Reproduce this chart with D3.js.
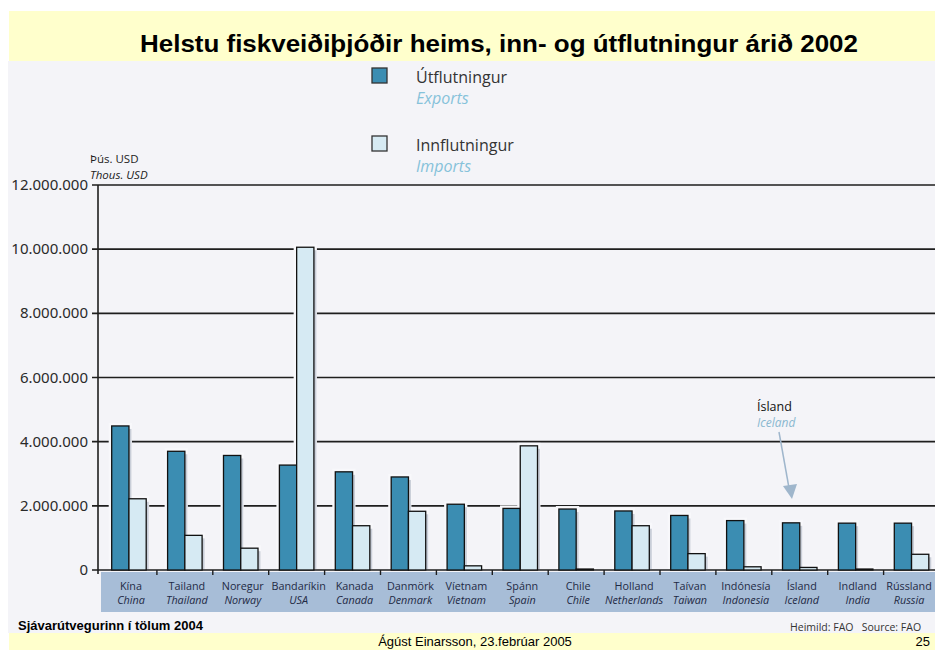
<!DOCTYPE html>
<html><head><meta charset="utf-8">
<script src="https://cdn.jsdelivr.net/npm/d3@7"></script>
<style>body{margin:0;background:#fff;} svg{display:block;}</style>
</head><body>
<svg id="c" width="935" height="650"></svg>
<script>
const categoriesIs = ["Kína","Tailand","Noregur","Bandaríkin","Kanada","Danmörk","Víetnam","Spánn","Chile","Holland","Taívan","Indónesía","Ísland","Indland","Rússland"];
const categoriesEn = ["China","Thailand","Norway","USA","Canada","Denmark","Vietnam","Spain","Chile","Netherlands","Taiwan","Indonesia","Iceland","India","Russia"];
const exportsVals = [4490000,3700000,3570000,3270000,3060000,2900000,2050000,1920000,1900000,1840000,1700000,1540000,1470000,1460000,1460000];
const importsVals = [2220000,1080000,680000,10060000,1380000,1830000,130000,3870000,30000,1380000,510000,100000,80000,30000,490000];
const yTicks = [0,2000000,4000000,6000000,8000000,10000000,12000000];
const seriesKeys = ["exp","imp"];
const seriesIs = ["Útflutningur","Innflutningur"];
const seriesEn = ["Exports","Imports"];

const svg = d3.select("#c");
const expColor = "#3b8db2", impColor = "#d6eaf3";

// backgrounds
svg.append("rect").attr("x",8).attr("y",61).attr("width",927).attr("height",572).attr("fill","#f4f4f8");
svg.append("rect").attr("x",9).attr("y",11).attr("width",926).attr("height",50).attr("fill","#ffffcc");
svg.append("rect").attr("x",9).attr("y",633).attr("width",926).attr("height",17).attr("fill","#ffffcc");

svg.append("text").attr("x",140).attr("y",52)
  .attr("font-family","Liberation Sans, Arial, sans-serif").attr("font-weight","bold").attr("font-size",23)
  .attr("textLength",718).attr("lengthAdjust","spacingAndGlyphs")
  .attr("fill","#000").text("Helstu fiskveiðiþjóðir heims, inn- og útflutningur árið 2002");

const x = d3.scaleBand().domain(d3.range(categoriesIs.length)).range([101,939.5]).padding(0);
const x1 = d3.scaleBand().domain(seriesKeys).range([0,x.bandwidth()]).paddingInner(0).paddingOuter(0.62);
const y = d3.scaleLinear().domain([0,12000000]).range([570,185]);

const loc = d3.formatLocale({decimal:",", thousands:".", grouping:[3], currency:["",""]});
const fmt = loc.format(",");

// category label band
svg.append("rect").attr("x",101).attr("y",572).attr("width",834).attr("height",40).attr("fill","#a7bdd7");

// gridlines
const g = svg.append("g");
g.selectAll("line.grid").data(yTicks).join("line")
  .attr("x1",92).attr("x2",935).attr("y1",d=>y(d)).attr("y2",d=>y(d))
  .attr("stroke","#1e1e1e").attr("stroke-width",1.6);
// y axis line
g.append("line").attr("x1",98).attr("x2",98).attr("y1",y(12000000)).attr("y2",574)
  .attr("stroke","#1e1e1e").attr("stroke-width",1.6);
// tick labels
g.selectAll("text.yt").data(yTicks).join("text")
  .attr("x",88).attr("y",d=>y(d)+5).attr("text-anchor","end")
  .attr("font-family","Noto Sans, sans-serif").attr("font-size",15).attr("fill","#2a2a2a")
  .text(d=>fmt(d));
// x ticks
g.selectAll("line.xt").data(d3.range(1,categoriesIs.length)).join("line")
  .attr("x1",d=>x(d)).attr("x2",d=>x(d)).attr("y1",570).attr("y2",575)
  .attr("stroke","#1e1e1e").attr("stroke-width",1.4);

const rows = categoriesIs.map((c,i)=>({i, exp:exportsVals[i], imp:importsVals[i]}));
const grp = svg.append("g").selectAll("g").data(rows).join("g").attr("transform",d=>`translate(${x(d.i)},0)`);
// halo
grp.selectAll("rect.halo").data(d=>seriesKeys.map(k=>({k,v:d[k]}))).join("rect")
  .attr("x",d=>x1(d.k)-3).attr("width",x1.bandwidth()+6)
  .attr("y",d=>y(d.v)-3).attr("height",d=>569-y(d.v)+3).attr("fill","#f8f8fb");
// shadow
grp.selectAll("rect.sh").data(d=>seriesKeys.map(k=>({k,v:d[k]}))).join("rect")
  .attr("x",d=>x1(d.k)+2.5).attr("width",x1.bandwidth())
  .attr("y",d=>y(d.v)+3).attr("height",d=>Math.max(0,569-y(d.v)-3)).attr("fill","#c9ced8");
// bars
grp.selectAll("rect.bar").data(d=>seriesKeys.map(k=>({k,v:d[k]}))).join("rect")
  .attr("x",d=>x1(d.k)).attr("width",x1.bandwidth())
  .attr("y",d=>y(d.v)).attr("height",d=>y(0)-y(d.v))
  .attr("fill",d=>d.k==="exp"?expColor:impColor).attr("stroke","#111").attr("stroke-width",1.3);

// category labels
const lab = svg.append("g").selectAll("g").data(rows).join("g")
  .attr("transform",d=>`translate(${Math.min(x(d.i)+x.bandwidth()/2+2, 909)},0)`);
lab.append("text").attr("y",590).attr("text-anchor","middle")
  .attr("font-family","Open Sans, sans-serif").attr("font-size",10.8).attr("fill","#1f2a45")
  .text(d=>categoriesIs[d.i]);
lab.append("text").attr("y",604).attr("text-anchor","middle")
  .attr("font-family","Open Sans, sans-serif").attr("font-style","italic").attr("font-size",10.8).attr("fill","#1f2a45")
  .text(d=>categoriesEn[d.i]);

// legend
const leg = svg.append("g").selectAll("g").data(seriesKeys).join("g")
  .attr("transform",(d,i)=>`translate(372,${i===0?68:136})`);
leg.append("rect").attr("width",15).attr("height",15)
  .attr("fill",d=>d==="exp"?expColor:impColor).attr("stroke","#333").attr("stroke-width",1.3);
leg.append("text").attr("x",44).attr("y",15).attr("font-family","Open Sans, sans-serif").attr("font-size",16).attr("fill","#333")
  .text((d,i)=>seriesIs[i]);
leg.append("text").attr("x",44).attr("y",36).attr("font-family","Open Sans, sans-serif").attr("font-style","italic").attr("font-size",16).attr("fill","#86c2da")
  .text((d,i)=>seriesEn[i]);

// unit label
svg.append("text").attr("x",90).attr("y",163).attr("font-family","Open Sans, sans-serif").attr("font-size",11.5).attr("fill","#222").text("Þús. USD");
svg.append("text").attr("x",90).attr("y",179).attr("font-family","Open Sans, sans-serif").attr("font-style","italic").attr("font-size",11.5).attr("fill","#222").text("Thous. USD");

// Iceland annotation
svg.append("text").attr("x",757).attr("y",411).attr("font-family","Open Sans, sans-serif").attr("font-size",12.5).attr("fill","#111").text("Ísland");
svg.append("text").attr("x",757).attr("y",427).attr("font-family","Open Sans, sans-serif").attr("font-style","italic").attr("font-size",12).attr("fill","#8ab8d0").text("Iceland");
svg.append("line").attr("x1",779).attr("y1",432).attr("x2",789).attr("y2",488).attr("stroke","#9fb6cc").attr("stroke-width",1.5);
svg.append("path").attr("d","M783,486 L797,484 L792,499 Z").attr("fill","#9fb6cc");

// footers
svg.append("text").attr("x",18).attr("y",630).attr("font-family","Liberation Sans, Arial, sans-serif").attr("font-weight","bold").attr("font-size",13).attr("fill","#000").text("Sjávarútvegurinn í tölum 2004");
svg.append("text").attr("x",790).attr("y",631).attr("font-family","Open Sans, sans-serif").attr("font-size",10.5).attr("fill","#333").attr("xml:space","preserve").text("Heimild: FAO   Source: FAO");
svg.append("text").attr("x",475).attr("y",646).attr("text-anchor","middle").attr("font-family","Liberation Sans, Arial, sans-serif").attr("font-size",13).attr("fill","#000").text("Ágúst Einarsson, 23.febrúar 2005");
svg.append("text").attr("x",930).attr("y",646).attr("text-anchor","end").attr("font-family","Liberation Sans, Arial, sans-serif").attr("font-size",13).attr("fill","#000").text("25");
</script>
</body></html>
